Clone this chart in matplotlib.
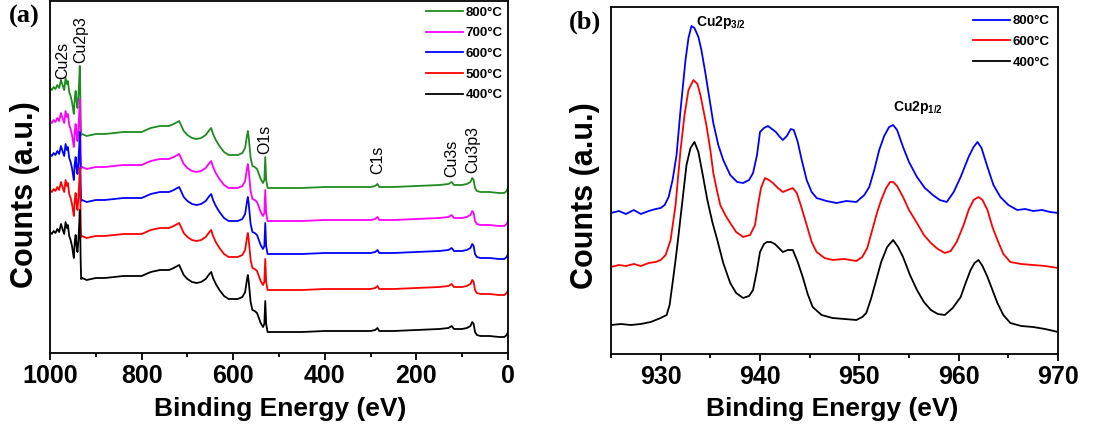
import numpy as np
import matplotlib
matplotlib.use("Agg")
import matplotlib.pyplot as plt
from matplotlib.ticker import MultipleLocator

plt.rcParams["font.family"] = ["Liberation Sans", "DejaVu Sans"]

# ---- panel (a): survey spectra, one shared profile shifted per temperature
survey_energy = [1000, 996, 992, 988, 984, 980, 976, 972, 969, 966, 963, 961, 958, 955,
                 952, 950, 948, 946, 944, 942, 940, 938, 936, 935, 934, 933, 932, 930,
                 920, 900, 880, 860, 840, 820, 800, 790, 780, 770, 760, 750, 740, 730,
                 722, 718, 714, 708, 700, 690, 680, 670, 660, 652, 648, 644, 638, 630,
                 620, 610, 600, 590, 580, 574, 570, 568, 566, 562, 558, 553, 548, 544,
                 540, 535, 532, 530, 528, 525, 500, 450, 400, 350, 300, 290, 285, 281,
                 250, 200, 150, 130, 123, 118, 100, 90, 82, 78, 75, 72, 68, 60, 40, 20,
                 8, 3, 0]
survey_profile = [100, 98, 101, 99, 103, 100, 108, 102, 98, 110, 104, 107, 96, 92,
                  86, 80, 74, 90, 97, 86, 80, 92, 110, 122, 100, 70, 53, 54,
                  52, 54, 54, 55, 56, 56, 56, 58, 60, 61, 62, 62, 62, 64,
                  66, 67, 63, 57, 53, 50, 49, 50, 53, 58, 60, 54, 48, 42,
                  36, 33, 33, 33, 35, 40, 52, 57, 50, 30, 22, 21, 19, 14,
                  9, 5, 8, 31, 8, 0, 0, 0, 1, 1, 1, 2, 4, 1,
                  1, 2, 3, 4, 6, 3, 3, 4, 6, 10, 8, 0, -3, -4, -4, -5,
                  -5, -3, 0]
survey_labels = ["800°C", "700°C", "600°C", "500°C", "400°C"]
survey_offsets = [172, 139, 106, 70, 28]
survey_colors = ["#1e8c1e", "#ff00ff", "#0000ff", "#ff0000", "#000000"]

peak_names_a = ["Cu2s", "Cu2p3", "O1s", "C1s", "Cu3s", "Cu3p3"]
peak_pos_a = [972, 932, 531, 284, 122, 76]
peak_y_a = [300, 320, 221, 200, 202, 210]

# ---- panel (b): Cu2p high resolution
hr_labels = ["800°C", "600°C", "400°C"]
hr_colors = ["#0000ff", "#ff0000", "#000000"]

e800 = [925, 925.8, 926.5, 927.3, 928, 928.8, 929.5, 930.0, 930.4, 930.8, 931.2, 931.6,
        932.0, 932.3, 932.5, 932.8, 933.1, 933.4, 933.8, 934.1, 934.5, 934.9, 935.3,
        935.8, 936.3, 937.0, 937.7, 938.3, 938.9, 939.3, 939.7, 940.0, 940.4, 940.8,
        941.2, 941.6, 942.0, 942.3, 942.7, 943.1, 943.4, 943.8, 944.2, 944.7, 945.2,
        945.7, 946.7, 947.7, 948.7, 949.7, 950.5, 951.0, 951.5, 952.0, 952.5, 953.0,
        953.4, 953.8, 954.4, 955.0, 955.8, 956.6, 957.4, 958.1, 958.8, 959.5, 960.2,
        961.0, 961.5, 961.9, 962.3, 962.9, 963.5, 964.2, 965.0, 965.9, 966.7, 967.5,
        968.4, 969.2, 970]
c800 = [147, 149, 146, 150, 146, 149, 151, 152, 155, 163, 180, 205,
        250, 280, 300, 322, 334, 332, 323, 310, 287, 262, 237,
        215, 200, 185, 178, 177, 180, 187, 205, 228, 232, 234,
        231, 228, 223, 220, 224, 231, 230, 218, 200, 180, 168,
        162, 159, 157, 159, 158, 165, 173, 190, 210, 224, 233,
        235, 230, 213, 198, 183, 172, 165, 160, 158, 168, 183,
        203, 213, 218, 212, 193, 175, 163, 155, 150, 151, 149,
        150, 148, 147]

e600 = [925, 925.8, 926.5, 927.3, 928, 928.8, 929.5, 930.0, 930.5, 931.0, 931.5, 932.0,
        932.4, 932.8, 933.3, 933.7, 934.0, 934.6, 935.0, 935.3, 935.7, 936.0, 936.5,
        937.0, 937.6, 938.3, 939.0, 939.5, 939.8, 940.1, 940.5, 940.9, 941.3, 941.8,
        942.3, 942.8, 943.3, 943.7, 944.1, 944.7, 945.2, 945.7, 946.5, 947.3, 948.5,
        949.7, 950.3, 950.8, 951.3, 951.8, 952.2, 952.7, 953.1, 953.4, 953.8, 954.4,
        955.0, 955.8, 956.5, 957.2, 957.9, 958.6, 959.2, 959.8, 960.5, 961.0, 961.5,
        962.0, 962.4, 962.9, 963.4, 963.9, 964.5, 965.2, 966.3, 967.5, 968.7, 970]
c600 = [93, 95, 94, 96, 94, 97, 98, 100, 105, 120, 155, 210,
        245, 270, 280, 276, 265, 235, 210, 187, 168, 155, 145,
        137, 128, 123, 125, 135, 155, 172, 182, 180, 177, 172,
        168, 170, 172, 167, 155, 135, 118, 108, 102, 100, 101,
        99, 103, 112, 130, 148, 160, 172, 178, 178, 174, 163,
        150, 137, 125, 117, 111, 107, 109, 118, 135, 150, 160,
        163, 160, 150, 133, 120, 106, 98, 96, 95, 94, 92]

e400 = [925, 926, 927, 928, 929, 930, 930.6, 930.9, 931.2, 931.5, 931.8, 932.2,
        932.6, 933.0, 933.4, 933.8, 934.2, 934.7, 935.2, 935.7, 936.3, 937.0, 937.6,
        938.3, 938.9, 939.3, 939.7, 940.0, 940.4, 940.7, 941.1, 941.5, 941.9, 942.3,
        942.8, 943.3, 943.8, 944.3, 944.8, 945.3, 946.2, 947.3, 948.5, 949.7, 950.3,
        950.7, 951.2, 951.7, 952.2, 952.8, 953.4, 953.9, 954.4, 955.1, 955.8, 956.5,
        957.2, 957.9, 958.6, 959.4, 960.2, 960.7, 961.2, 961.6, 962.0, 962.4, 962.9,
        963.4, 963.9, 964.5, 965.2, 966.3, 967.5, 968.7, 970]
c400 = [35, 36, 35, 36, 38, 42, 45, 55, 77, 100, 125, 160,
        195, 212, 218, 208, 187, 160, 138, 120, 97, 77, 67,
        62, 64, 70, 90, 108, 116, 118, 118, 116, 112, 108,
        110, 110, 98, 83, 66, 53, 45, 42, 41, 40, 43,
        47, 62, 80, 98, 113, 120, 113, 103, 85, 70, 58,
        50, 46, 45, 52, 63, 77, 90, 97, 100, 94, 83,
        70, 57, 45, 37, 34, 33, 31, 28]

hr_energy = [e800, e600, e400]
hr_counts = [c800, c600, c400]

peak_names_b = ["Cu2p$_{\\mathregular{3/2}}$", "Cu2p$_{\\mathregular{1/2}}$"]
peak_pos_b = [933.6, 953.4]
peak_y_b = [338, 252]


def style_axis(ax):
    for sp in ax.spines.values():
        sp.set_linewidth(1.3)
    ax.set_yticks([])
    ax.tick_params(axis="x", which="major", direction="out", length=5, width=1.3, pad=3,
                   labelsize=18)
    ax.tick_params(axis="x", which="minor", direction="out", length=3, width=1.3)
    for lab in ax.get_xticklabels():
        lab.set_fontweight("bold")
    ax.set_xlabel("Binding Energy (eV)", fontsize=19, fontweight="bold")
    ax.set_ylabel("Counts (a.u.)", fontsize=22, fontweight="bold")


fig = plt.figure(figsize=(11.04, 4.26), dpi=100)
ax1 = fig.add_axes([50 / 1104, 73 / 426, 458 / 1104, 352 / 426])
ax2 = fig.add_axes([611 / 1104, 72 / 426, 447 / 1104, 347 / 426])

# panel (a)
prof = np.array(survey_profile)
handles = []
for lab, off, col in zip(survey_labels, survey_offsets, survey_colors):
    h, = ax1.plot(survey_energy, prof + off, color=col, lw=1.3, label=lab)
    handles.append(h)
ax1.set_xlim(1000, 0)
ax1.set_ylim(7, 359)
ax1.xaxis.set_major_locator(MultipleLocator(200))
ax1.xaxis.set_minor_locator(MultipleLocator(100))
style_axis(ax1)
ax1.xaxis.set_label_coords(0.502, -0.125)
ax1.yaxis.set_label_coords(-0.022, 0.45)
for name, x, y in zip(peak_names_a, peak_pos_a, peak_y_a):
    ax1.text(x, y, name, rotation=90, ha="center", va="center", fontsize=11.5)
ax1.legend(handles=handles, loc="upper right", frameon=False,
           prop=dict(weight="bold", size=9.5), handlelength=2.8, handletextpad=0.2,
           labelspacing=0.64, borderaxespad=0.1, borderpad=0.3)
fig.text(24 / 1104, 1 - 16 / 426, "(a)", family="Liberation Serif", weight="bold",
         fontsize=19, ha="center", va="center")

# panel (b)
for e, c, lab, col in zip(hr_energy, hr_counts, hr_labels, hr_colors):
    ax2.plot(e, c, color=col, lw=1.3, label=lab)
ax2.set_xlim(925, 970)
ax2.set_ylim(6, 353)
ax2.xaxis.set_major_locator(MultipleLocator(10))
ax2.xaxis.set_minor_locator(MultipleLocator(5))
style_axis(ax2)
ax2.xaxis.set_label_coords(0.495, -0.125)
ax2.yaxis.set_label_coords(-0.025, 0.455)
for name, x, y in zip(peak_names_b, peak_pos_b, peak_y_b):
    ax2.text(x, y, name, ha="left", va="center", fontsize=10, fontweight="bold")
ax2.legend(loc="upper right", frameon=False,
           prop=dict(weight="bold", size=9.5), handlelength=2.8, handletextpad=0.2,
           labelspacing=0.64, borderaxespad=0.1, borderpad=0.5)
fig.text(585 / 1104, 1 - 22 / 426, "(b)", family="Liberation Serif", weight="bold",
         fontsize=19, ha="center", va="center")

fig.savefig("out.png", dpi=100)
